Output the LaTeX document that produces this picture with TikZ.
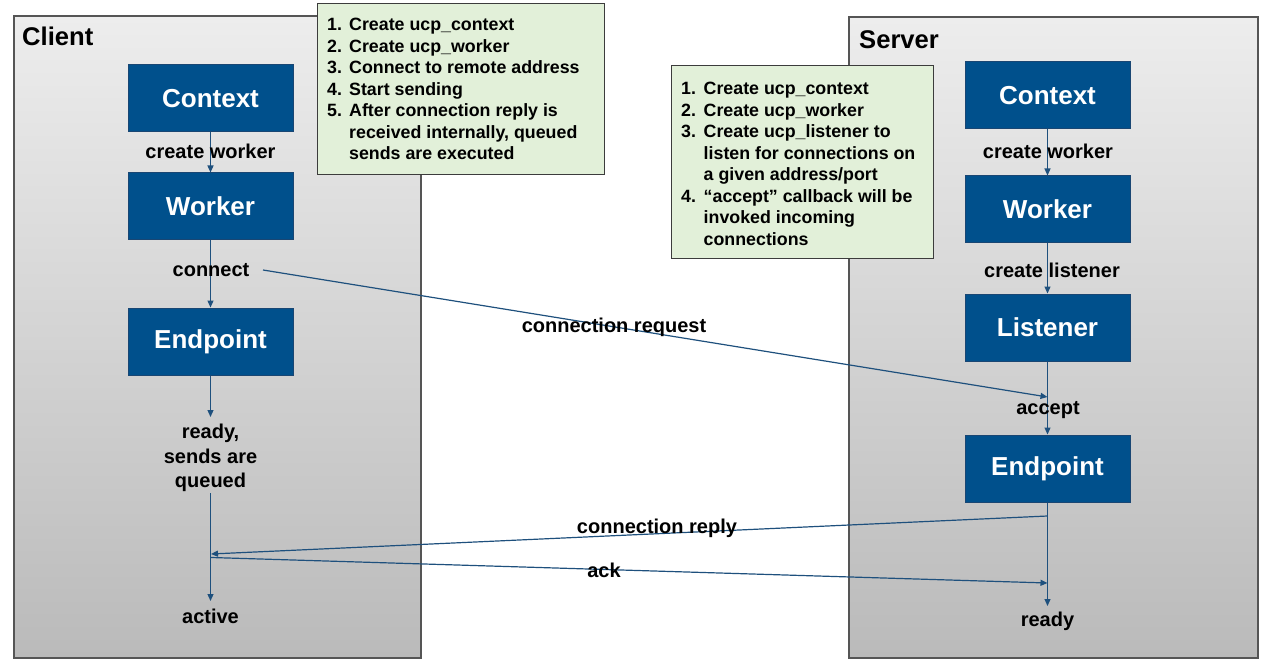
\documentclass[tikz,border=0pt]{standalone}
\usepackage{fontspec}
\setmainfont{Liberation Sans}
\usetikzlibrary{arrows.meta}
\definecolor{boxblue}{RGB}{0,80,140}
\definecolor{boxedge}{RGB}{25,70,115}
\definecolor{arrowc}{RGB}{30,80,125}
\definecolor{notefill}{RGB}{226,240,217}
\definecolor{noteedge}{RGB}{60,60,60}
\definecolor{paneledge}{RGB}{85,85,85}
\definecolor{paneltop}{RGB}{237,237,237}
\definecolor{panelbot}{RGB}{186,186,186}
\begin{document}
\begin{tikzpicture}[x=1pt,y=-1pt,
  panel/.style={draw=paneledge,line width=1.2pt,top color=paneltop,bottom color=panelbot},
  note/.style={draw=noteedge,line width=1pt,fill=notefill},
  comp/.style={draw=boxedge,fill=boxblue,line width=1pt,minimum width=165pt,minimum height=67pt,inner sep=0pt,text=white,font=\fontsize{26}{30}\selectfont\bfseries},
  lbl/.style={font=\fontsize{20}{24.5}\selectfont\bfseries,inner sep=0pt},
  ttl/.style={font=\fontsize{25.6}{30}\selectfont\bfseries,inner sep=0pt,anchor=base west},
  notetxt/.style={font=\fontsize{17.8}{21.5}\selectfont\bfseries,inner sep=0pt,anchor=base west},
  flow/.style={draw=arrowc,line width=1.2pt,-{Triangle[length=7pt,width=6pt]}}
]
\useasboundingbox (0,0) rectangle (1280,671);
% panels
\draw[panel] (14,16) rectangle (421,658);
\draw[panel] (849,17) rectangle (1258,658);
\node[ttl] (ctitle) at (22,46) {Client};
\node[ttl] (stitle) at (859,49) {Server};
% notes
\draw[note] (317,4) rectangle (604,175);
\draw[note] (671,66) rectangle (933,259);
\node[notetxt] (note1) at (327,31) {\begin{tabular}[t]{@{}p{22pt}@{}l@{}}
1.&Create ucp\_context\\
2.&Create ucp\_worker\\
3.&Connect to remote address\\
4.&Start sending\\
5.&After connection reply is\\
&received internally, queued\\
&sends are executed
\end{tabular}};
\node[notetxt] (note2) at (681,95) {\begin{tabular}[t]{@{}p{22.5pt}@{}l@{}}
1.&Create ucp\_context\\
2.&Create ucp\_worker\\
3.&Create ucp\_listener to\\
&listen for connections on\\
&a given address/port\\
4.&“accept” callback will be\\
&invoked incoming\\
&connections
\end{tabular}};
% client components
\node[comp] (cctx) at (210.5,98.5) {Context};
\node[comp] (cwrk) at (210.5,206.5) {Worker};
\node[comp] (cep) at (210.5,341.5) {Endpoint};
\coordinate (creadytop) at (210.5,417);
\coordinate (cqbot) at (210.5,493);
\coordinate (cactop) at (210.5,601);
\coordinate (creply) at (211,554);
\coordinate (cack) at (211,557.5);
\coordinate (creqstart) at (263,270);
% server components
\node[comp] (sctx) at (1047.5,95.5) {Context};
\node[comp] (swrk) at (1047.5,209.5) {Worker};
\node[comp] (slst) at (1047.5,327.5) {Listener};
\node[comp] (sep) at (1047.5,468.5) {Endpoint};
\coordinate (sreq) at (1047.5,397);
\coordinate (sreply) at (1047.5,516);
\coordinate (sack) at (1047.5,583);
\coordinate (sreadytop) at (1047.5,606);
% client flow
\draw[flow] (cctx.south) -- (cwrk.north);
\draw[flow] (cwrk.south) -- (cep.north);
\draw[flow] (cep.south) -- (creadytop);
\draw[flow] (cqbot) -- (cactop);
% server flow
\draw[flow] (sctx.south) -- (swrk.north);
\draw[flow] (swrk.south) -- (slst.north);
\draw[flow] (slst.south) -- (sep.north);
\draw[flow] (sep.south) -- (sreadytop);
% messages
\draw[flow] (creqstart) -- (sreq);
\draw[flow] (sreply) -- (creply);
\draw[flow] (cack) -- (sack);
% labels (on top of lines)
\node[lbl] (ccw) at (210.5,151) {create worker};
\node[lbl] (cconn) at (211,270) {connect};
\node[lbl,align=center,anchor=north] (cready) at (210.5,424) {ready,\\sends are\\queued};
\node[lbl] (cact) at (210.5,616) {active};
\node[lbl] (scw) at (1048,151) {create worker};
\node[lbl] (scl) at (1052,270) {create listener};
\node[lbl] (sacc) at (1048,410) {accept};
\node[lbl] (sready) at (1047.5,621) {ready};
\node[lbl] (lreq) at (614,327) {connection request};
\node[lbl] (lrep) at (657,528) {connection reply};
\node[lbl] (lack) at (604,570) {ack};
\end{tikzpicture}
\end{document}
